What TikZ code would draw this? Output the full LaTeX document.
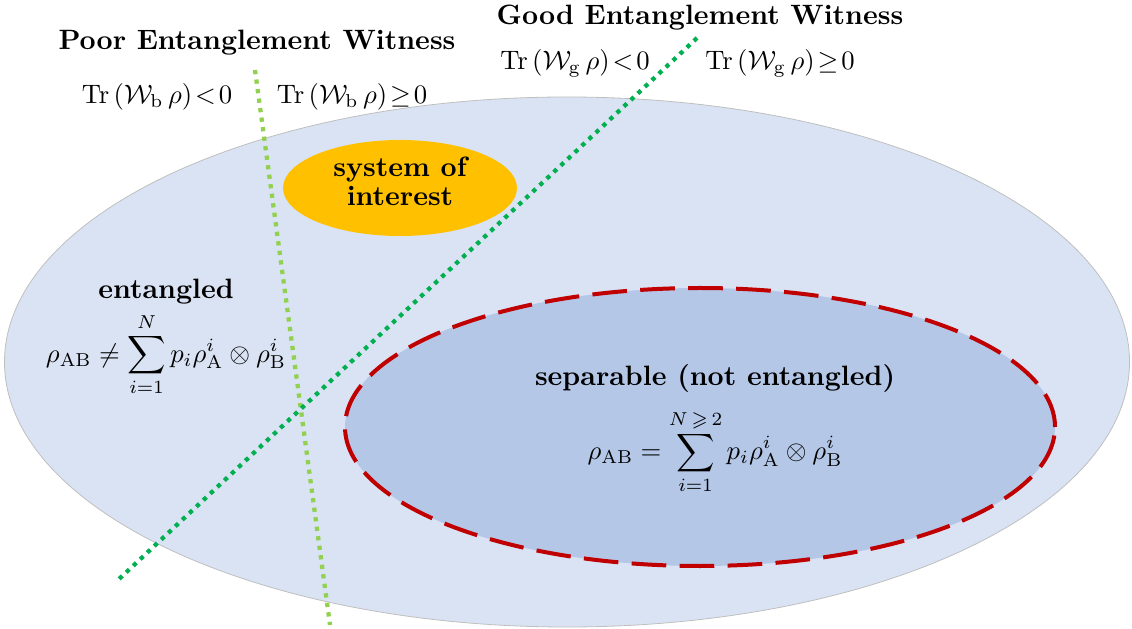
\documentclass[tikz,border=0pt]{standalone}
\usepackage{amsmath,amssymb}
\usepackage{tikz}
\usetikzlibrary{calc, positioning, shapes.geometric}

\definecolor{outerblue}{HTML}{DAE3F3}
\definecolor{innerblue}{HTML}{B4C7E7}
\definecolor{sepred}{HTML}{C00000}
\definecolor{sysorange}{HTML}{FFC000}
\definecolor{poorgreen}{HTML}{92D050}
\definecolor{goodgreen}{HTML}{00B050}

\begin{document}
\begin{tikzpicture}[
        x=0.375pt, y=-0.375pt,
        font=\normalsize,
        region/.style={
            ellipse,
            inner sep=0pt
        },
        label/.style={
            align=center,
            inner sep=1pt
        },
        heading/.style={
            label,
            font=\fontsize{10.5}{12}\selectfont\bfseries
        },
        witness/.style={
            line width=1.6pt,
            dash pattern=on 1.6pt off 2pt,
            line cap=butt
        }
    ]
    \useasboundingbox (0,0) rectangle (1132,629);

    % --- REGIONS ---
    \node[region, fill=outerblue, draw=black!25, line width=0.3pt,
        minimum width=1125*0.375pt, minimum height=530*0.375pt] (all) at (567,362) {};
    \node[region, fill=innerblue, draw=sepred, line width=1.5pt, dash pattern=on 13pt off 5pt,
        minimum width=710*0.375pt, minimum height=278*0.375pt] (sep) at (700,427) {};
    \node[region, fill=sysorange, minimum width=234*0.375pt, minimum height=96*0.375pt] (sys) at (400,188) {};

    % --- WITNESS LINES ---
    \coordinate (pooraa) at (255,70);
    \coordinate (poorbb) at (330,625);
    \coordinate (goodaa) at (697,38);
    \coordinate (goodbb) at (118,580);
    \draw[witness, poorgreen] (pooraa) -- (poorbb);
    \draw[witness, goodgreen] (goodaa) -- (goodbb);

    % --- TEXT ---
    \node[heading] (systxt) at (400,181) {system of\\[-1pt]interest};
    \node[heading] (enttxt) at (166,292) {entangled};
    \node[label] (entform) at (166,355)
        {$\rho_{\mathrm{AB}}\neq\displaystyle\sum_{i=1}^{N}p_i\rho_{\mathrm{A}}^{i}\otimes\rho_{\mathrm{B}}^{i}$};
    \node[heading] (septxt) at (715,378) {separable (not entangled)};
    \node[label] (sepform) at (715,452)
        {$\rho_{\mathrm{AB}}=\displaystyle\sum_{i=1}^{N\,\geqslant\,2}p_i\rho_{\mathrm{A}}^{i}\otimes\rho_{\mathrm{B}}^{i}$};

    \node[heading] (poortitle) at (257,43) {Poor Entanglement Witness};
    \node[label] (poorneg) at (157,97) {$\mathrm{Tr}\left(\mathcal{W}_{\mathrm{b}}\,\rho\right)\!<\!0$};
    \node[label] (poorpos) at (352,97) {$\mathrm{Tr}\left(\mathcal{W}_{\mathrm{b}}\,\rho\right)\!\geq\!0$};

    \node[heading] (goodtitle) at (700,18) {Good Entanglement Witness};
    \node[label] (goodneg) at (575,63) {$\mathrm{Tr}\left(\mathcal{W}_{\mathrm{g}}\,\rho\right)\!<\!0$};
    \node[label] (goodpos) at (780,63) {$\mathrm{Tr}\left(\mathcal{W}_{\mathrm{g}}\,\rho\right)\!\geq\!0$};

\end{tikzpicture}
\end{document}
